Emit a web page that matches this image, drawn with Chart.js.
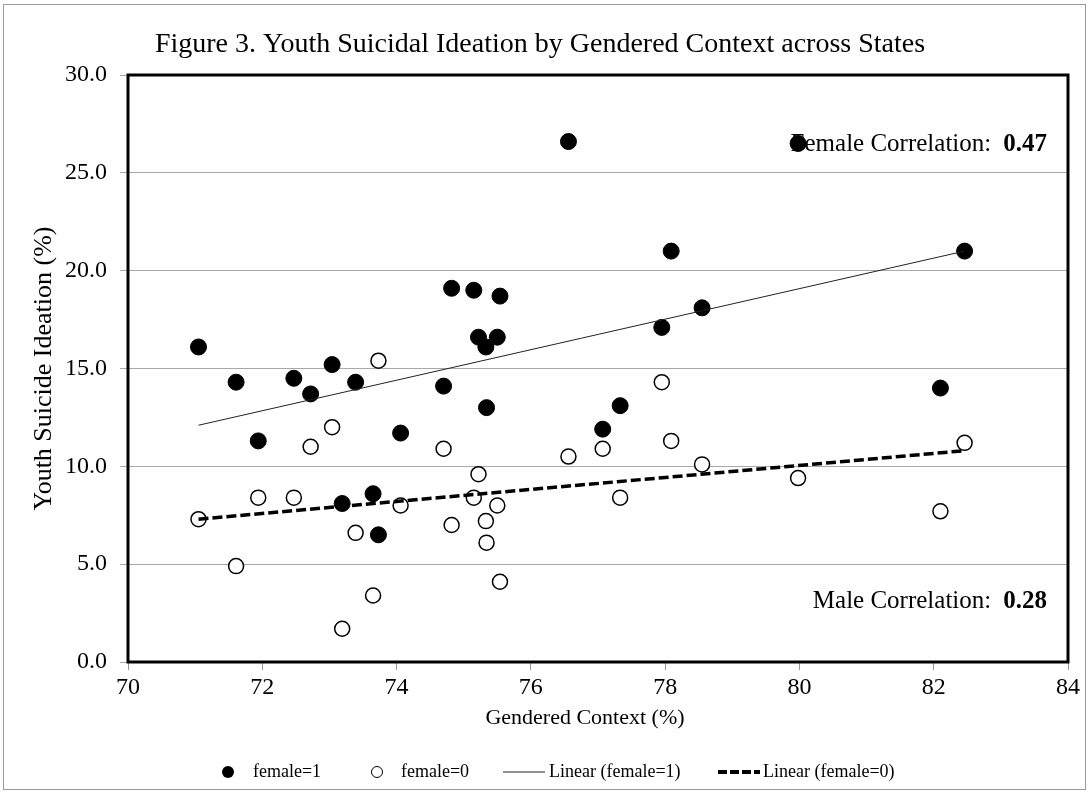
<!DOCTYPE html>
<html>
<head>
<meta charset="utf-8">
<script src="https://cdn.jsdelivr.net/npm/chart.js@4/dist/chart.umd.min.js"></script>
<style>
  body { margin: 0; background: #fff; }
  canvas { display: block; }
</style>
</head>
<body>
<canvas id="chart" width="1088" height="792"></canvas>
<script>
// Gendered context (%) per state, shared by both series
const gendered = [71.05, 71.61, 71.94, 72.47, 72.72, 73.04, 73.19, 73.39, 73.65, 73.73,
  74.06, 74.70, 74.82, 75.15, 75.22, 75.33, 75.34, 75.50, 75.54, 76.56,
  77.07, 77.33, 77.95, 78.09, 78.55, 79.98, 82.10, 82.46];

// Youth suicide ideation (%)
const femaleVals = [16.1, 14.3, 11.3, 14.5, 13.7, 15.2, 8.1, 14.3, 8.6, 6.5,
  11.7, 14.1, 19.1, 19.0, 16.6, 16.1, 13.0, 16.6, 18.7, 26.6,
  11.9, 13.1, 17.1, 21.0, 18.1, 26.5, 14.0, 21.0];
const maleVals = [7.3, 4.9, 8.4, 8.4, 11.0, 12.0, 1.7, 6.6, 3.4, 15.4,
  8.0, 10.9, 7.0, 8.4, 9.6, 7.2, 6.1, 8.0, 4.1, 10.5,
  10.9, 8.4, 14.3, 11.3, 10.1, 9.4, 7.7, 11.2];

// trendline end values as drawn (at first and last x)
const trendX = [71.05, 82.46];
const trendFemale = [12.1, 21.0];
const trendMale = [7.3, 10.8];

const xRange = [70, 84];
const yRange = [0, 30];

const legendItems = ['female=1', 'female=0', 'Linear (female=1)', 'Linear (female=0)'];

const serif = "'Liberation Serif', 'Times New Roman', serif";

const toPoints = (xs, ys) => xs.map((x, i) => ({ x: x, y: ys[i] }));

// draws title, frame, plot border, notes and legend
const decor = {
    id: 'decor',
    beforeDraw(chart) {
        const ctx = chart.ctx;
        ctx.save();
        ctx.fillStyle = '#fff';
        ctx.fillRect(0, 0, chart.width, chart.height);
        ctx.strokeStyle = '#9a9a9a';
        ctx.lineWidth = 1;
        ctx.strokeRect(3.5, 4.5, chart.width - 6, chart.height - 7);
        ctx.restore();
    },
    afterDraw(chart) {
        const ctx = chart.ctx;
        const a = chart.chartArea;
        ctx.save();

        // plot border
        ctx.strokeStyle = '#000';
        ctx.lineWidth = 3;
        ctx.strokeRect(a.left, a.top, a.right - a.left, a.bottom - a.top);

        // title
        ctx.fillStyle = '#000';
        ctx.font = `28px ${serif}`;
        ctx.textAlign = 'center';
        ctx.textBaseline = 'alphabetic';
        ctx.fillText('Figure 3. Youth Suicidal Ideation by Gendered Context across States', 540, 52);

        // x axis title
        ctx.font = `22px ${serif}`;
        ctx.textBaseline = 'middle';
        ctx.fillText('Gendered Context (%)', 585, 718);

        // correlation notes
        ctx.textBaseline = 'alphabetic';
        const note = (label, val, y) => {
            ctx.textAlign = 'right';
            ctx.font = `bold 25px ${serif}`;
            ctx.fillText(val, 1047, y);
            const w = ctx.measureText(val).width;
            ctx.font = `25px ${serif}`;
            ctx.fillText(label, 1047 - w - 12, y);
        };
        note('Female Correlation:', '0.47', 151);
        note('Male Correlation:', '0.28', 608);

        // legend
        const ly = 772;
        ctx.font = `18px ${serif}`;
        ctx.textAlign = 'left';
        ctx.textBaseline = 'middle';
        ctx.beginPath();
        ctx.arc(228, ly, 6, 0, Math.PI * 2);
        ctx.fill();
        ctx.fillText(legendItems[0], 253, ly);

        ctx.beginPath();
        ctx.arc(377, ly, 5.5, 0, Math.PI * 2);
        ctx.lineWidth = 1;
        ctx.stroke();
        ctx.fillText(legendItems[1], 401, ly);

        ctx.beginPath();
        ctx.moveTo(503, ly);
        ctx.lineTo(545, ly);
        ctx.lineWidth = 1;
        ctx.strokeStyle = '#222';
        ctx.stroke();
        ctx.fillText(legendItems[2], 549, ly);

        ctx.beginPath();
        ctx.setLineDash([9, 3]);
        ctx.moveTo(718, ly);
        ctx.lineTo(760, ly);
        ctx.lineWidth = 4;
        ctx.strokeStyle = '#000';
        ctx.stroke();
        ctx.setLineDash([]);
        ctx.fillText(legendItems[3], 763, ly);

        ctx.restore();
    }
};

const chart = new Chart(document.getElementById('chart'), {
    type: 'scatter',
    data: {
        datasets: [
            {
                type: 'line',
                label: legendItems[2],
                data: toPoints(trendX, trendFemale),
                borderColor: '#222',
                borderWidth: 1,
                pointRadius: 0,
                order: 0
            },
            {
                type: 'line',
                label: legendItems[3],
                data: toPoints(trendX, trendMale),
                borderColor: '#000',
                borderWidth: 3.5,
                borderDash: [10, 4],
                pointRadius: 0,
                order: 0
            },
            {
                label: legendItems[0],
                data: toPoints(gendered, femaleVals),
                backgroundColor: '#000',
                borderColor: '#000',
                pointRadius: 8,
                order: 1
            },
            {
                label: legendItems[1],
                data: toPoints(gendered, maleVals),
                backgroundColor: '#fff',
                borderColor: '#000',
                borderWidth: 1.5,
                pointRadius: 7.5,
                order: 1
            }
        ]
    },
    options: {
        responsive: false,
        animation: false,
        events: [],
        layout: { padding: { top: 75, right: 20, bottom: 0, left: 0 } },
        plugins: {
            legend: { display: false },
            title: { display: false },
            tooltip: { enabled: false }
        },
        scales: {
            x: {
                type: 'linear',
                min: xRange[0],
                max: xRange[1],
                afterFit: (s) => { s.height = 130; },
                border: { display: false },
                grid: { drawOnChartArea: false, drawTicks: true, tickLength: 8, color: '#999' },
                ticks: {
                    stepSize: 2,
                    padding: 3,
                    color: '#000',
                    font: { family: serif, size: 24 }
                }
            },
            y: {
                min: yRange[0],
                max: yRange[1],
                afterFit: (s) => { s.width = 128; },
                border: { display: false },
                grid: { color: '#a8a8a8', tickLength: 8, lineWidth: 1 },
                ticks: {
                    stepSize: 5,
                    padding: 13,
                    color: '#000',
                    font: { family: serif, size: 24 },
                    callback: (v) => v.toFixed(1)
                },
                title: {
                    display: true,
                    text: 'Youth Suicide Ideation (%)',
                    color: '#000',
                    font: { family: serif, size: 26 },
                    padding: { top: 29, bottom: 0 }
                }
            }
        }
    },
    plugins: [decor]
});
</script>
</body>
</html>
